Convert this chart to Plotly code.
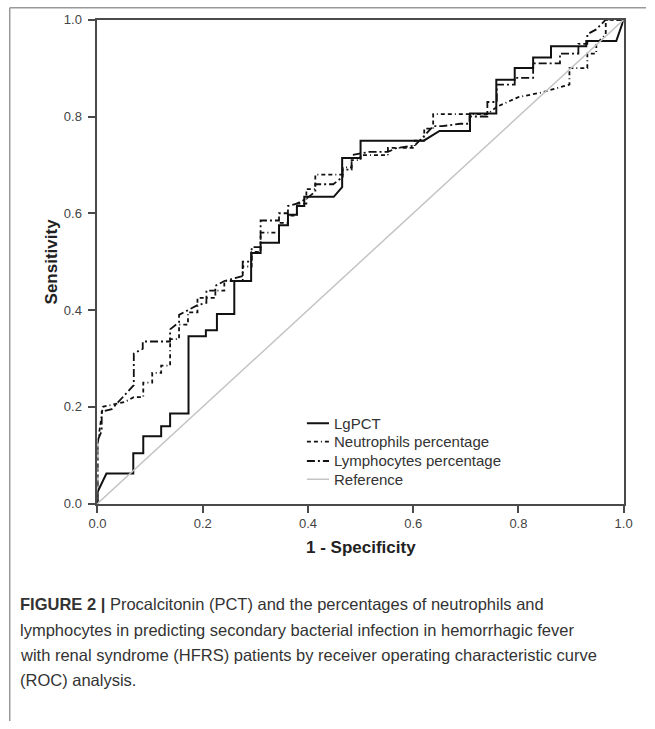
import plotly.graph_objects as go

# ---------------- data (ROC curve vertices: 1-specificity, sensitivity) ----------------
lgpct_fpr = [0.0, 0.0, 0.017, 0.068, 0.068, 0.087, 0.087, 0.121, 0.121, 0.138, 0.138,
             0.173, 0.173, 0.206, 0.206, 0.227, 0.227, 0.260, 0.260, 0.292, 0.292,
             0.310, 0.310, 0.345, 0.345, 0.362, 0.362, 0.379, 0.379, 0.393, 0.393,
             0.449, 0.465, 0.465, 0.500, 0.500, 0.620, 0.650, 0.708, 0.708, 0.758,
             0.758, 0.793, 0.793, 0.828, 0.828, 0.862, 0.862, 0.929, 0.929, 0.986, 1.0]
lgpct_tpr = [0.0, 0.024, 0.062, 0.062, 0.104, 0.104, 0.139, 0.139, 0.160, 0.160, 0.186,
             0.186, 0.346, 0.346, 0.358, 0.358, 0.392, 0.392, 0.460, 0.460, 0.518,
             0.518, 0.539, 0.539, 0.575, 0.575, 0.597, 0.597, 0.615, 0.615, 0.634,
             0.634, 0.654, 0.714, 0.714, 0.750, 0.750, 0.770, 0.770, 0.806, 0.806,
             0.876, 0.876, 0.900, 0.900, 0.922, 0.922, 0.945, 0.945, 0.956, 0.956, 1.0]

neut_fpr = [0.0, 0.0, 0.010, 0.030, 0.052, 0.069, 0.087, 0.087, 0.104, 0.104, 0.121,
            0.121, 0.138, 0.138, 0.155, 0.155, 0.172, 0.172, 0.190, 0.190, 0.224,
            0.224, 0.241, 0.241, 0.276, 0.276, 0.293, 0.293, 0.310, 0.310, 0.345,
            0.345, 0.362, 0.362, 0.379, 0.379, 0.397, 0.397, 0.414, 0.414, 0.466,
            0.466, 0.483, 0.483, 0.500, 0.500, 0.552, 0.552, 0.603, 0.603, 0.621,
            0.621, 0.638, 0.638, 0.741, 0.759, 0.800, 0.845, 0.897, 0.897, 0.931,
            0.931, 0.948, 0.948, 0.966, 0.966, 1.0]
neut_tpr = [0.0, 0.120, 0.200, 0.205, 0.210, 0.220, 0.220, 0.250, 0.250, 0.270, 0.270,
            0.285, 0.285, 0.340, 0.340, 0.370, 0.370, 0.395, 0.395, 0.425, 0.425,
            0.440, 0.440, 0.460, 0.460, 0.490, 0.490, 0.520, 0.520, 0.560, 0.560,
            0.580, 0.580, 0.595, 0.595, 0.620, 0.620, 0.650, 0.650, 0.680, 0.680,
            0.695, 0.695, 0.710, 0.710, 0.720, 0.720, 0.735, 0.735, 0.750, 0.750,
            0.775, 0.775, 0.805, 0.805, 0.820, 0.840, 0.850, 0.866, 0.900, 0.900,
            0.930, 0.930, 0.950, 0.970, 1.0, 1.0]

lymph_fpr = [0.0, 0.0, 0.008, 0.008, 0.027, 0.052, 0.069, 0.069, 0.086, 0.086, 0.138,
             0.138, 0.155, 0.155, 0.172, 0.190, 0.207, 0.207, 0.224, 0.224, 0.241,
             0.259, 0.276, 0.276, 0.293, 0.293, 0.310, 0.310, 0.345, 0.345, 0.362,
             0.362, 0.379, 0.397, 0.414, 0.414, 0.448, 0.466, 0.466, 0.483, 0.483,
             0.517, 0.552, 0.569, 0.603, 0.621, 0.638, 0.655, 0.690, 0.707, 0.707,
             0.741, 0.741, 0.759, 0.759, 0.793, 0.793, 0.828, 0.828, 0.879, 0.879,
             0.914, 0.914, 0.931, 0.931, 0.948, 0.966, 1.0]
lymph_tpr = [0.0, 0.130, 0.150, 0.190, 0.195, 0.225, 0.245, 0.310, 0.320, 0.335, 0.335,
             0.360, 0.375, 0.390, 0.400, 0.410, 0.415, 0.440, 0.440, 0.450, 0.460,
             0.465, 0.470, 0.500, 0.500, 0.530, 0.530, 0.585, 0.585, 0.600, 0.600,
             0.615, 0.620, 0.630, 0.645, 0.660, 0.660, 0.675, 0.690, 0.690, 0.720,
             0.727, 0.727, 0.735, 0.740, 0.760, 0.780, 0.780, 0.785, 0.785, 0.800,
             0.800, 0.830, 0.830, 0.866, 0.866, 0.880, 0.880, 0.910, 0.910, 0.930,
             0.930, 0.950, 0.950, 0.970, 0.980, 1.0, 1.0]

ref_fpr = [0.0, 1.0]
ref_tpr = [0.0, 1.0]

series_names = ["LgPCT", "Neutrophils percentage", "Lymphocytes percentage", "Reference"]

tick_vals = [0.0, 0.2, 0.4, 0.6, 0.8, 1.0]
tick_text = ["0.0", "0.2", "0.4", "0.6", "0.8", "1.0"]

caption_lines = [
    "<b>FIGURE 2 |</b> Procalcitonin (PCT) and the percentages of neutrophils and",
    "lymphocytes in predicting secondary bacterial infection in hemorrhagic fever",
    "with renal syndrome (HFRS) patients by receiver operating characteristic curve",
    "(ROC) analysis.",
]

# ---------------- layout geometry (pixels) ----------------
W, H = 655, 729
PL, PR, PT, PB = 91, 632, 13, 507


def px_x(p):
    return p / W


def px_y(p):
    return 1 - p / H


FONT = "Liberation Sans, Arial, sans-serif"
styles = [
    dict(color="#111111", width=2),
    dict(color="#111111", width=1.8, dash="4px,3px,4px,3px,1px,3px"),
    dict(color="#111111", width=1.8, dash="8px,3px,2px,3px"),
    dict(color="#c4c4c4", width=1.5),
]

fig = go.Figure()
for name, xs, ys, st in zip(series_names,
                            [lgpct_fpr, neut_fpr, lymph_fpr, ref_fpr],
                            [lgpct_tpr, neut_tpr, lymph_tpr, ref_tpr],
                            styles):
    fig.add_trace(go.Scatter(x=xs, y=ys, mode="lines", name=name, line=st,
                             showlegend=False))

axis_common = dict(
    range=[0, 1], tickvals=tick_vals, ticktext=tick_text,
    showline=True, mirror=True, linecolor="#4a4a4a", linewidth=2,
    ticks="outside", ticklen=7, tickwidth=1.5, tickcolor="#4a4a4a",
    showgrid=False, zeroline=False,
    tickfont=dict(family=FONT, size=13, color="#444444"),
)

fig.update_layout(
    width=W, height=H,
    margin=dict(l=0, r=0, t=0, b=0),
    paper_bgcolor="white", plot_bgcolor="white",
    xaxis=dict(domain=[px_x(PL), px_x(PR)], **axis_common),
    yaxis=dict(domain=[px_y(PB), px_y(PT)], ticklabelstandoff=4, **axis_common),
    showlegend=False,
)

# manual legend (placed in data coordinates, lower-middle of plot)
leg_x0, leg_x1, leg_tx = 0.398, 0.440, 0.445
leg_y = [0.166, 0.128, 0.088, 0.050]
for name, st, yy in zip(series_names, styles, leg_y):
    fig.add_shape(type="line", xref="x", yref="y", x0=leg_x0, x1=leg_x1, y0=yy, y1=yy,
                  line=dict(color=st["color"], width=st["width"], dash=st.get("dash", "solid")))
    fig.add_annotation(text=name, xref="x", yref="y", x=leg_tx, y=yy,
                       xanchor="left", yanchor="middle", showarrow=False,
                       font=dict(family=FONT, size=15, color="#333333"))

# axis titles
fig.add_annotation(text="<b>1 - Specificity</b>", xref="paper", yref="paper",
                   x=px_x((PL + PR) / 2), y=px_y(552), xanchor="center", yanchor="middle",
                   showarrow=False, font=dict(family=FONT, size=17, color="#222222"))
fig.add_annotation(text="<b>Sensitivity</b>", xref="paper", yref="paper",
                   x=px_x(PL - 47), y=px_y((PT + PB) / 2), xanchor="center", yanchor="middle",
                   textangle=-90, showarrow=False,
                   font=dict(family=FONT, size=17, color="#222222"))

# caption
for i, line in enumerate(caption_lines):
    fig.add_annotation(text=line, xref="paper", yref="paper",
                       x=px_x(9), y=px_y(610 + 25.6 * i), xanchor="left", yanchor="middle",
                       showarrow=False,
                       font=dict(family=FONT, size=16.5, color="#333333"))

# figure frame (top and left border)
fig.add_shape(type="line", xref="paper", yref="paper", x0=px_x(0.75), x1=1, y0=px_y(0.75), y1=px_y(0.75),
              line=dict(color="#999999", width=1.5))
fig.add_shape(type="line", xref="paper", yref="paper", x0=px_x(0.75), x1=px_x(0.75), y0=px_y(0.75), y1=0,
              line=dict(color="#999999", width=1.5))

fig.write_html("out.html")
